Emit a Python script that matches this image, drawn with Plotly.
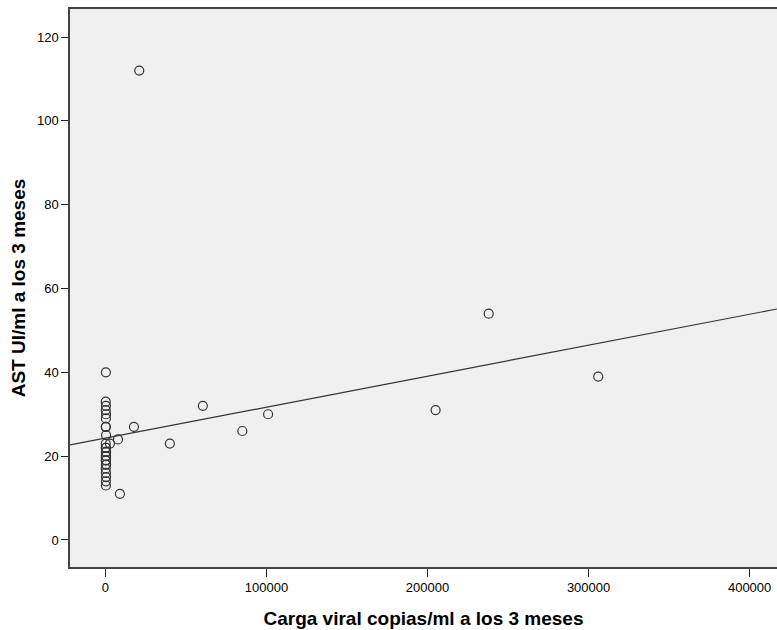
import plotly.graph_objects as go

# Data (viral load copies/ml, AST UI/ml at 3 months)
carga_viral = [21000, 238000, 306000, 205000, 101000, 60500, 85000, 40000,
               17700, 7800, 9000, 2800,
               300, 200, 300, 200, 400, 300, 200, 300, 400, 200, 300, 200,
               400, 300, 200, 400, 300, 200, 300, 400, 200, 300, 400, 300]
ast = [112, 54, 39, 31, 30, 32, 26, 23,
       27, 24, 11, 23,
       40, 33, 32, 31, 30, 29, 27, 27, 25, 23, 22, 22,
       21, 21, 20, 20, 19, 19, 18, 18, 17, 16, 15, 14]
ast_extra = [13]
carga_extra = [300]

# Linear fit line
fit_intercept = 24.3
fit_slope = 7.39e-5

x_range = [-22000, 417000]
y_range = [-6.45, 126.7]
x_ticks = [0, 100000, 200000, 300000, 400000]
y_ticks = [0, 20, 40, 60, 80, 100, 120]

xs = carga_viral + carga_extra
ys = ast + ast_extra

fig = go.Figure()
fig.add_trace(go.Scatter(
    x=[x_range[0], x_range[1]],
    y=[fit_intercept + fit_slope * x_range[0], fit_intercept + fit_slope * x_range[1]],
    mode="lines", line=dict(color="#333333", width=1.2),
    hoverinfo="skip", showlegend=False))
fig.add_trace(go.Scatter(
    x=xs, y=ys, mode="markers",
    marker=dict(symbol="circle-open", size=9, color="#333333",
                line=dict(width=1.2, color="#333333")),
    showlegend=False))

font_family = "Liberation Sans, Arial, sans-serif"
fig.update_layout(
    width=777, height=630,
    margin=dict(l=70, r=0, t=9, b=63),
    paper_bgcolor="white", plot_bgcolor="#F0F0F0",
    font=dict(family=font_family, size=13, color="#000000"),
    xaxis=dict(range=x_range, tickvals=x_ticks, ticktext=[str(v) for v in x_ticks],
               showgrid=False, zeroline=False, showline=True, linecolor="#444444",
               linewidth=1.5, mirror=True, ticks="outside", ticklen=8, tickwidth=1,
               tickcolor="#222222",
               title=dict(text="<b>Carga viral copias/ml a los 3 meses</b>",
                          font=dict(size=19), standoff=17)),
    yaxis=dict(range=y_range, tickvals=y_ticks, showgrid=False, zeroline=False,
               showline=True, linecolor="#444444", linewidth=1.5, mirror=False,
               ticks="outside", ticklen=7, tickwidth=1, tickcolor="#222222",
               title=dict(text="<b>AST UI/ml a los 3 meses</b>",
                          font=dict(size=19), standoff=6)),
)

fig.write_html("out.html")
